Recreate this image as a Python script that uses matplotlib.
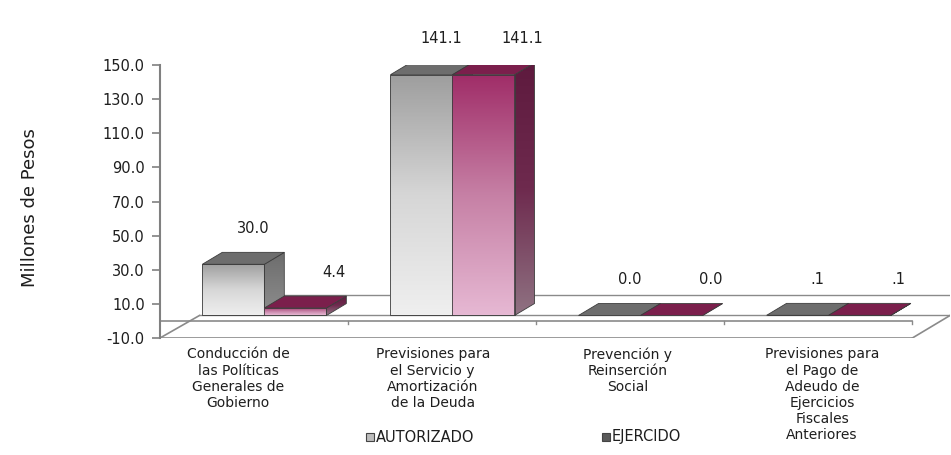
import numpy as np
import matplotlib
matplotlib.use("Agg")
import matplotlib.pyplot as plt
from matplotlib.patches import Rectangle, Polygon
from matplotlib.colors import LinearSegmentedColormap

categories = ["Conducción de\nlas Políticas\nGenerales de\nGobierno",
              "Previsiones para\nel Servicio y\nAmortización\nde la Deuda",
              "Prevención y\nReinserción\nSocial",
              "Previsiones para\nel Pago de\nAdeudo de\nEjercicios\nFiscales\nAnteriores"]
autorizado = [30.0, 141.1, 0.0, 0.1]
ejercido = [4.4, 141.1, 0.0, 0.1]
series_names = ["AUTORIZADO", "EJERCIDO"]
yticks = [-10, 10, 30, 50, 70, 90, 110, 130, 150]

BASE = 3.2     # floor level the bars stand on
DX, DY = 0.106, 7.0   # depth of the 3d bars
W = 0.33

gray_front = LinearSegmentedColormap.from_list("gf", ["#efefef", "#d6d6d6", "#9e9e9e"])
gray_side = LinearSegmentedColormap.from_list("gs", ["#8e8e8e", "#6c6c6c"])
pink_front = LinearSegmentedColormap.from_list("pf", ["#e6b8d3", "#c680a5", "#a02d68"])
pink_side = LinearSegmentedColormap.from_list("ps", ["#8f7282", "#6e2a4e", "#5e1a3e"])
gray_top = "#6d6d6d"
pink_top = "#7b1f4c"
edge = "#3c3c3c"
txt = "#1e1e1e"


def fmt(v):
    s = f"{v:.1f}"
    if 0 < v < 1:
        s = s[1:]
    return s


def grad_fill(ax, poly, cmap, x0, x1, y0, y1, z):
    g = np.linspace(0, 1, 200).reshape(-1, 1)
    im = ax.imshow(g, extent=[x0, x1, y0, y1], origin="lower",
                   aspect="auto", cmap=cmap, zorder=z, interpolation="bilinear")
    im.set_clip_path(poly)


def bar3d(ax, x0, h, fcmap, scmap, topc, z):
    y0, y1 = BASE, BASE + h
    side = Polygon([(x0 + W, y0), (x0 + W + DX, y0 + DY), (x0 + W + DX, y1 + DY), (x0 + W, y1)],
                   closed=True, facecolor="none", edgecolor=edge, lw=0.6, zorder=z + 0.2)
    ax.add_patch(side)
    if h > 0:
        grad_fill(ax, side, scmap, x0 + W, x0 + W + DX, y0, y1 + DY, z)
    top = Polygon([(x0, y1), (x0 + W, y1), (x0 + W + DX, y1 + DY), (x0 + DX, y1 + DY)],
                  closed=True, facecolor=topc, edgecolor=edge, lw=0.6, zorder=z + 0.3)
    ax.add_patch(top)
    if h > 0:
        front = Rectangle((x0, y0), W, h, facecolor="none", edgecolor=edge, lw=0.6, zorder=z + 0.4)
        ax.add_patch(front)
        grad_fill(ax, front, fcmap, x0, x0 + W, y0, y1, z + 0.1)


fig = plt.figure(figsize=(9.51, 4.55), dpi=100)
ax = fig.add_axes([160 / 951, 117 / 455, 790 / 951, 273 / 455])

n = len(categories)
xs = np.arange(n)

# floor
floor_col = "#8a8a8a"
ax.plot([-0.5, 3.5], [-10, -10], color=floor_col, lw=1.2, zorder=1)
ax.plot([-0.5, 3.5], [0, 0], color=floor_col, lw=1.2, zorder=1)
ax.plot([-0.5, -0.29], [-10, BASE], color=floor_col, lw=1.2, zorder=1)
ax.plot([3.5, 3.7], [-10, BASE], color=floor_col, lw=1.2, zorder=1)
ax.plot([-0.29, 3.7], [BASE, BASE], color=floor_col, lw=1.0, zorder=1)
ax.plot([0.0, 3.7], [15, 15], color=floor_col, lw=1.0, zorder=1)
for b in xs + 0.5:
    ax.plot([b, b], [0, -1.8], color=floor_col, lw=1.0, zorder=1)

for i in range(n):
    xg = i - 0.275
    xp = xg + W
    bar3d(ax, xg, autorizado[i], gray_front, gray_side, gray_top, 3)
    bar3d(ax, xp, ejercido[i], pink_front, pink_side, pink_top, 5)
    ax.text(xg + W / 2 + DX, BASE + autorizado[i] + DY + 14, fmt(autorizado[i]),
            ha="center", va="center", fontsize=10.5, color=txt, clip_on=False)
    ax.text(xp + W / 2 + DX + 0.1, BASE + ejercido[i] + DY + 14, fmt(ejercido[i]),
            ha="center", va="center", fontsize=10.5, color=txt, clip_on=False)
    ax.text(i - 0.085 + 0.035 * i, -15.5, categories[i], ha="center", va="top",
            fontsize=10, color=txt, clip_on=False)

ax.set_xlim(-0.5, 3.7)
ax.set_ylim(-10, 150)
ax.set_yticks(yticks)
ax.set_yticklabels([f"{t:.1f}" for t in yticks], fontsize=10.5, color=txt)
ax.set_xticks([])
for s in ["top", "right", "bottom"]:
    ax.spines[s].set_visible(False)
ax.spines["left"].set_color("#808080")
ax.spines["left"].set_linewidth(1.5)
ax.tick_params(axis="y", length=6, color="#808080", width=1.2, pad=5)
ax.set_facecolor("none")

fig.text(0.032, (455 - 208) / 455, "Millones de Pesos", rotation=90, ha="center", va="center",
         fontsize=13, color=txt)

# legend
leg_y = (455 - 437) / 455
for xpix, name, fc in [(366, series_names[0], "#bdbdbd"), (602, series_names[1], "#5a5a5a")]:
    fig.patches.append(Rectangle((xpix / 951, leg_y - 4 / 455), 8 / 951, 8 / 455,
                                 transform=fig.transFigure, facecolor=fc,
                                 edgecolor="#444444", lw=0.8))
    fig.text((xpix + 10) / 951, leg_y, name, ha="left", va="center", fontsize=10.5, color=txt)

fig.savefig("out.png", dpi=100)
